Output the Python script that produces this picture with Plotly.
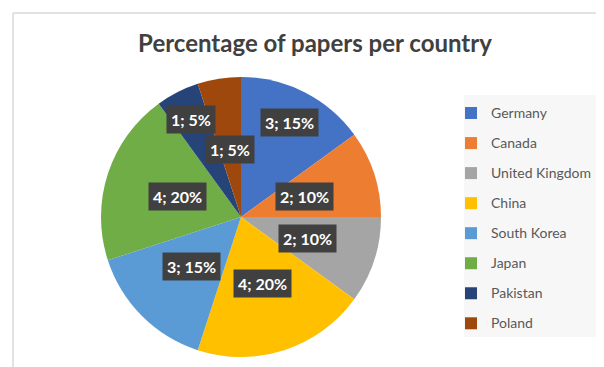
import math
import plotly.graph_objects as go

# ---- data ----
countries = ["Germany", "Canada", "United Kingdom", "China", "South Korea", "Japan", "Pakistan", "Poland"]
papers = [3, 2, 2, 4, 3, 4, 1, 1]
colors = ["#4472C4", "#ED7D31", "#A5A5A5", "#FFC000", "#5B9BD5", "#70AD47", "#264478", "#9E480E"]
title_text = "Percentage of papers per country"

# label placement style (fraction of radius, Excel "best fit" look)
label_radius_frac = [0.76, 0.48, 0.5, 0.5, 0.5, 0.48, 0.78, 0.49]

OFF = 8  # page body margin offset
W, H = 604 - OFF, 367 - OFF


def X(px):  # window px -> paper x
    return (px - OFF) / W


def Y(py):  # window px (from top) -> paper y
    return (H - (py - OFF)) / H


cx, cy_top, R = 241, 217, 140

fig = go.Figure(go.Pie(
    labels=[f'<span style="font-size:14px;baseline-shift:3px">{c}</span>' for c in countries],
    values=papers,
    marker=dict(colors=colors, line=dict(width=0)),
    sort=False,
    direction="clockwise",
    rotation=0,
    textinfo="none",
    hoverinfo="label+value+percent",
    domain=dict(x=[X(cx - R), X(cx + R)], y=[Y(cy_top + R), Y(cy_top - R)]),
))

total = sum(papers)
annotations = []
cum = 0
for v, f in zip(papers, label_radius_frac):
    mid = (cum + v / 2) / total * 2 * math.pi
    cum += v
    px = cx + f * R * math.sin(mid)
    py = cy_top - f * R * math.cos(mid)
    annotations.append(dict(
        x=X(px), y=Y(py), xref="paper", yref="paper",
        xanchor="center", yanchor="middle",
        text=f"<b>{v}; {round(100 * v / total)}%</b>",
        showarrow=False, bgcolor="#404040", borderpad=4,
        font=dict(family="Lato", size=16, color="white"),
    ))

fig.update_layout(
    width=W, height=H, autosize=False,
    margin=dict(l=0, r=0, t=0, b=0),
    paper_bgcolor="white",
    title=dict(text=f"<b>{title_text}</b>", x=X(315), xanchor="center",
               y=Y(44), yanchor="middle", yref="container",
               font=dict(family="Lato", size=24, color="#404040")),
    showlegend=True,
    legend=dict(x=X(451), xanchor="left", y=Y(93), yanchor="top",
                font=dict(family="Lato", size=20.8, color="#595959"),
                bgcolor="rgba(0,0,0,0)", traceorder="normal"),
    annotations=annotations,
    shapes=[
        dict(type="rect", xref="paper", yref="paper", x0=X(464), x1=1.01, y0=Y(337), y1=Y(95),
             fillcolor="#F7F7F7", line=dict(width=0), layer="below"),
        dict(type="line", xref="paper", yref="paper", x0=X(13), x1=1.01, y0=Y(13), y1=Y(13),
             line=dict(color="#D9D9D9", width=1.5)),
        dict(type="line", xref="paper", yref="paper", x0=X(13), x1=X(13), y0=-0.01, y1=Y(13),
             line=dict(color="#D9D9D9", width=1.5)),
    ],
)

fig.write_html("out.html")
